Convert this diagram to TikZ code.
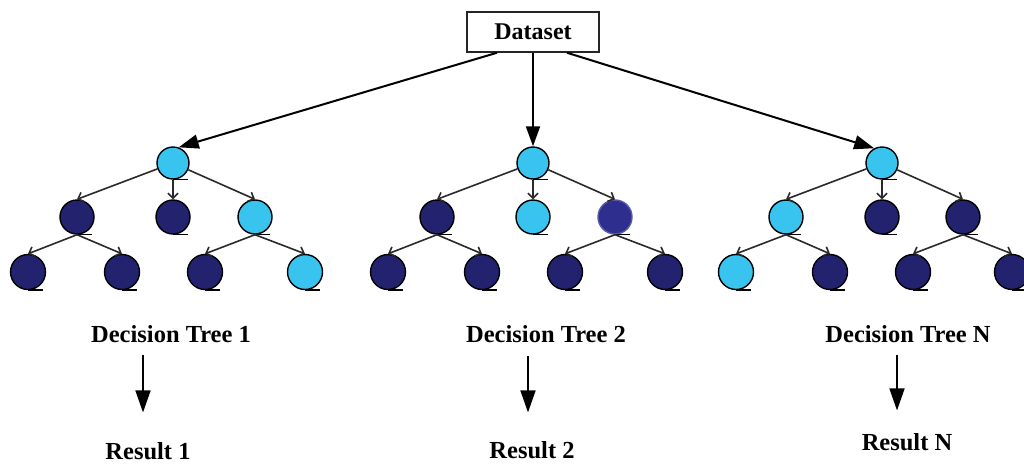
\documentclass[tikz,border=0pt]{standalone}
\usepackage{fontspec}
\setmainfont{Liberation Serif}
\usetikzlibrary{arrows.meta}
\definecolor{leafon}{HTML}{38C4EE}
\definecolor{leafoff}{HTML}{22226E}
\definecolor{leafhaze}{HTML}{2E2E8E}
\definecolor{edgegray}{HTML}{2A2A2A}
\tikzset{
  lbl/.style={font=\fontsize{24.5}{28}\selectfont\bfseries, inner sep=0pt, anchor=base},
  databox/.style={draw=black!85, line width=1.5pt, minimum width=132pt, minimum height=40pt,
    inner sep=0pt, font=\fontsize{24}{28}\selectfont\bfseries, fill=white},
  ball/.style={circle, draw=black, line width=1.4pt, inner sep=0pt, minimum size=34pt},
  rootball/.style={ball, minimum size=32pt},
  lowball/.style={ball, minimum size=35pt},
  on/.style={fill=leafon},
  off/.style={fill=leafoff},
  haze/.style={fill=leafhaze, draw=leafhaze!80},
  branch/.style={draw=edgegray, line width=1.6pt, -{Straight Barb[length=5pt,width=10pt]}},
  bigarrow/.style={draw=black, line width=2pt, -{Triangle[length=20pt,width=14pt]}},
  resarrow/.style={draw=black, line width=1.6pt, -{Triangle[length=22pt,width=15pt]}},
  tailline/.style={draw=black, line width=1.5pt},
}
\begin{document}
\begin{tikzpicture}[x=1pt, y=-1pt]
\useasboundingbox[fill=white] (0,0) rectangle (1024,466);

% source data
\node[databox] (ds) at (533,32) {Dataset};

% tree 1
\node[rootball,on]  (r1) at (173,163) {};
\node[ball,off]     (a1) at (77,217) {};
\node[ball,off]     (b1) at (173,217) {};
\node[ball,on]      (c1) at (255,217) {};
\node[lowball,off]  (d1) at (28,272) {};
\node[lowball,off]  (e1) at (122,272) {};
\node[lowball,off]  (f1) at (205,272) {};
\node[lowball,on]   (g1) at (305,272) {};

% tree 2
\node[rootball,on]  (r2) at (533,163) {};
\node[ball,off]     (a2) at (437,217) {};
\node[ball,on]      (b2) at (533,217) {};
\node[ball,haze]    (c2) at (615,217) {};
\node[lowball,off]  (d2) at (388,272) {};
\node[lowball,off]  (e2) at (482,272) {};
\node[lowball,off]  (f2) at (565,272) {};
\node[lowball,off]  (g2) at (665,272) {};

% tree N
\node[rootball,on]  (r3) at (882,163) {};
\node[ball,on]      (a3) at (786,217) {};
\node[ball,off]     (b3) at (882,217) {};
\node[ball,off]     (c3) at (963,217) {};
\node[lowball,on]   (d3) at (736,272) {};
\node[lowball,off]  (e3) at (830,272) {};
\node[lowball,off]  (f3) at (913,272) {};
\node[lowball,off]  (g3) at (1012,272) {};

% little base strokes under every ball
\foreach \n in {r1,a1,b1,c1,d1,e1,f1,g1,r2,a2,b2,c2,d2,e2,f2,g2,r3,a3,b3,c3,d3,e3,f3,g3}
  \draw[tailline] (\n.south) -- ++(15,0);

% branches
\foreach \t in {1,2,3}{
  \draw[branch] (r\t) -- (a\t.north);
  \draw[branch] (r\t.south) -- (b\t.north);
  \draw[branch] (r\t) -- (c\t.north);
}
\draw[branch] (a1.south) -- (d1.north);
\draw[branch] (a1.south) -- (e1.north);
\draw[branch] (c1.south) -- (f1.north);
\draw[branch] (c1.south) -- (g1.north);
\draw[branch] (a2.south) -- (d2.north);
\draw[branch] (a2.south) -- (e2.north);
\draw[branch] (c2.south) -- (f2.north);
\draw[branch] (c2.south) -- (g2.north);
\draw[branch] (a3.south) -- (d3.north);
\draw[branch] (a3.south) -- (e3.north);
\draw[branch] (c3.south) -- (f3.north);
\draw[branch] (c3.south) -- (g3.north);

% dataset to each tree
\draw[bigarrow] ([xshift=-36pt]ds.south) -- (r1.70);
\draw[bigarrow] (ds.south) -- (r2.north);
\draw[bigarrow] ([xshift=34pt]ds.south) -- (r3.118);

% captions and results
\node[lbl] (dt1) at (171,342) {Decision Tree 1};
\node[lbl] (dt2) at (546,342) {Decision Tree 2};
\node[lbl] (dt3) at (908,342) {Decision Tree N};
\node[lbl] (res1) at (148,459) {Result 1};
\node[lbl] (res2) at (532,458) {Result 2};
\node[lbl] (res3) at (907,450) {Result N};

\draw[resarrow] (res1.north |- dt1.south) ++(-5,13) -- ++(0,57);
\draw[resarrow] (res2.north |- dt2.south) ++(-4,14) -- ++(0,56);
\draw[resarrow] (res3.north |- dt3.south) ++(-10,13) -- ++(0,55);
\end{tikzpicture}
\end{document}
